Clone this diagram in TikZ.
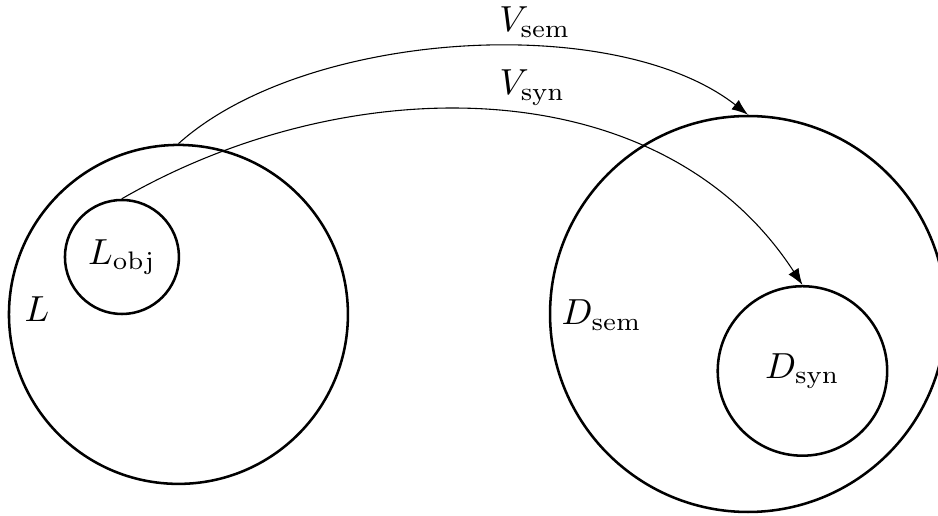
\documentclass[tikz,border=0pt]{standalone}
\usetikzlibrary{arrows.meta}
\begin{document}
\begin{tikzpicture}[
    set/.style={draw, circle, line width=0.7pt, inner sep=0pt},
    map/.style={-{Latex[length=4.5pt, width=3.3pt]}, line width=0.3pt},
    lab/.style={inner sep=0pt}
  ]
  \useasboundingbox (0,0) rectangle (9.099,5.005);

  % Sets
  \node[set, minimum size=3.288cm] (L) at (1.731,1.955) {};
  \node[set, minimum size=1.106cm] (Lobj) at (1.183,2.512) {$L_{\mathrm{obj}}$};
  \node[set, minimum size=3.841cm] (Dsem) at (7.256,1.959) {};
  \node[set, minimum size=1.644cm] (Dsyn) at (7.784,1.4065) {$D_{\mathrm{syn}}$};

  % Set labels
  \node[lab, anchor=base west] (Llab) at (0.233,1.882) {$L$};
  \node[lab, anchor=base west] (Dsemlab) at (5.442,1.853) {$D_{\mathrm{sem}}$};

  % Maps
  \draw[map] (L.north) to[out=42, in=142, looseness=0.76] (Dsem.north);
  \draw[map] (Lobj.north) to[out=30, in=123, looseness=0.97] (Dsyn.north);
  \node[lab, anchor=base] (Vsem) at (5.19,4.695) {$V_{\mathrm{sem}}$};
  \node[lab, anchor=base] (Vsyn) at (5.165,4.084) {$V_{\mathrm{syn}}$};
\end{tikzpicture}
\end{document}
